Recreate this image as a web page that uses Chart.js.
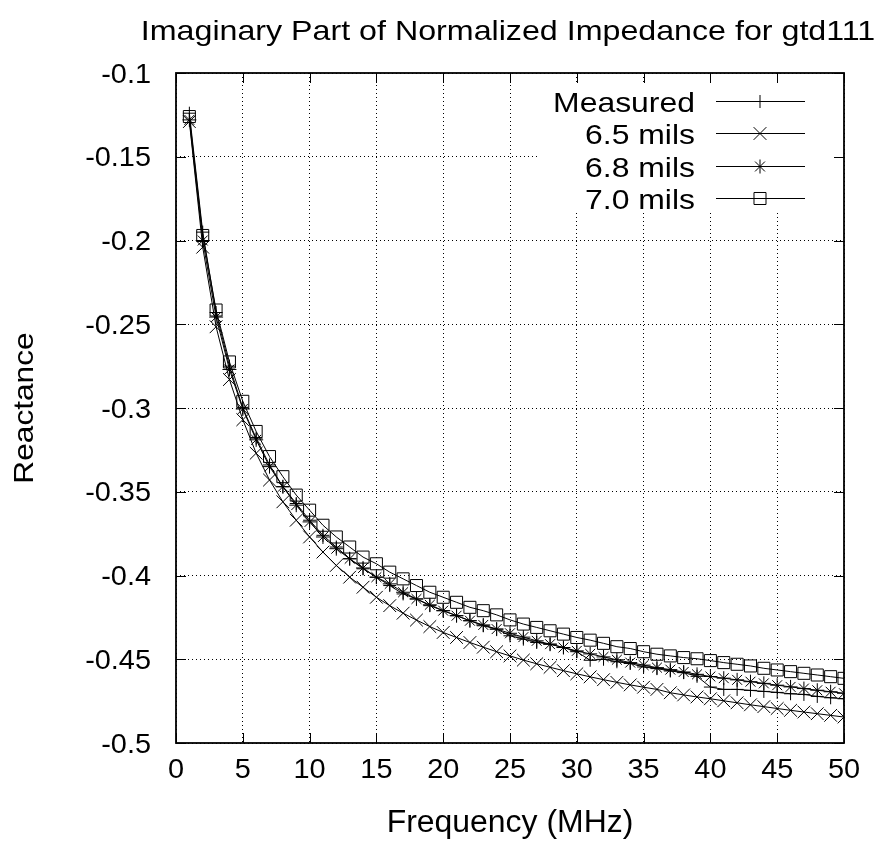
<!DOCTYPE html>
<html>
<head>
<meta charset="utf-8">
<script src="https://cdn.jsdelivr.net/npm/chart.js@4.4.1/dist/chart.umd.min.js"></script>
<style>
  html, body { margin: 0; padding: 0; background: #fff; }
  #wrap { width: 882px; height: 846px; }
</style>
</head>
<body>
<div id="wrap"><canvas id="impedanceChart" width="882" height="846"></canvas></div>
<script>
const freqs = [1, 2, 3, 4, 5, 6, 7, 8, 9, 10, 11, 12, 13, 14, 15, 16, 17, 18, 19, 20,
  21, 22, 23, 24, 25, 26, 27, 28, 29, 30, 31, 32, 33, 34, 35, 36, 37, 38, 39, 40,
  41, 42, 43, 44, 45, 46, 47, 48, 49, 50];

const measured = [-0.124, -0.195, -0.243, -0.275, -0.300, -0.318, -0.334, -0.347, -0.357, -0.367,
  -0.376, -0.383, -0.390, -0.396, -0.401, -0.406, -0.411, -0.414, -0.418, -0.421,
  -0.424, -0.427, -0.430, -0.432, -0.436, -0.438, -0.440, -0.441, -0.443, -0.4455,
  -0.4506, -0.450, -0.4515, -0.4525, -0.4546, -0.4556, -0.457, -0.458, -0.4602, -0.4666,
  -0.468, -0.468, -0.4686, -0.4692, -0.4698, -0.4706, -0.471, -0.4722, -0.473, -0.4736];

const mils65 = [-0.129, -0.204, -0.2515, -0.283, -0.307, -0.327, -0.343, -0.356, -0.367, -0.377,
  -0.386, -0.394, -0.401, -0.407, -0.413, -0.418, -0.4225, -0.4266, -0.4305, -0.434,
  -0.437, -0.440, -0.4428, -0.4455, -0.448, -0.4505, -0.4527, -0.4548, -0.4568, -0.4587,
  -0.4605, -0.4622, -0.4638, -0.4653, -0.4667, -0.468, -0.470, -0.4713, -0.4725, -0.4736,
  -0.4748, -0.476, -0.4772, -0.4783, -0.4794, -0.4805, -0.4815, -0.4825, -0.4835, -0.4845];

const mils68 = [-0.128, -0.200, -0.2457, -0.277, -0.3006, -0.319, -0.335, -0.347, -0.358, -0.368,
  -0.377, -0.384, -0.390, -0.3955, -0.401, -0.405, -0.410, -0.414, -0.4175, -0.421,
  -0.424, -0.427, -0.4295, -0.432, -0.4345, -0.4368, -0.439, -0.441, -0.443, -0.445,
  -0.4468, -0.4486, -0.4503, -0.452, -0.4535, -0.455, -0.4562, -0.4576, -0.459, -0.4603,
  -0.4613, -0.4623, -0.4634, -0.4644, -0.4655, -0.4665, -0.4675, -0.4685, -0.4694, -0.4703];

const mils70 = [-0.126, -0.197, -0.2415, -0.2725, -0.296, -0.314, -0.329, -0.341, -0.352, -0.361,
  -0.370, -0.377, -0.383, -0.389, -0.393, -0.398, -0.402, -0.406, -0.410, -0.413,
  -0.416, -0.419, -0.421, -0.4235, -0.4265, -0.429, -0.431, -0.433, -0.435, -0.437,
  -0.4386, -0.4405, -0.4425, -0.4436, -0.4455, -0.447, -0.448, -0.449, -0.4497, -0.4508,
  -0.452, -0.453, -0.454, -0.4554, -0.4564, -0.4574, -0.4584, -0.4594, -0.4604, -0.4614];

const seriesLabels = ['Measured', '6.5 mils', '6.8 mils', '7.0 mils'];
const xTicks = [0, 5, 10, 15, 20, 25, 30, 35, 40, 45, 50];
const yTicks = [-0.1, -0.15, -0.2, -0.25, -0.3, -0.35, -0.4, -0.45, -0.5];

const FONT = "'Liberation Sans', Arial, Helvetica, sans-serif";

const toPoints = vals => freqs.map((f, i) => ({ x: f, y: vals[i] }));

// marker styles, gnuplot-like: +, x, *, open square
const markers = [
  { style: 'cross', radius: 6.5 },
  { style: 'crossRot', radius: 9 },
  { style: 'star', radius: 7 },
  { style: 'rect', radius: 8.5 }
];

const seriesValues = [measured, mils65, mils68, mils70];

const datasets = seriesValues.map((vals, i) => ({
  label: seriesLabels[i],
  data: toPoints(vals),
  borderColor: '#000',
  borderWidth: 1,
  pointStyle: markers[i].style,
  pointRadius: markers[i].radius,
  pointBorderColor: '#000',
  pointBackgroundColor: 'rgba(0,0,0,0)',
  pointBorderWidth: 1,
  tension: 0,
  fill: false
}));

// the old gnuplot png fonts come out a little wider than Liberation,
// so text is drawn with a horizontal stretch
function wideText(ctx, text, x, y, size, sx, align, vertical) {
  ctx.save();
  ctx.translate(x, y);
  if (vertical) ctx.rotate(-Math.PI / 2);
  ctx.scale(sx, 1);
  ctx.font = size + 'px ' + FONT;
  ctx.textAlign = align;
  ctx.textBaseline = 'alphabetic';
  ctx.fillStyle = '#000';
  ctx.fillText(text, 0, 0);
  ctx.restore();
}

function drawMarker(ctx, style, x, y, r) {
  ctx.beginPath();
  if (style === 'cross' || style === 'star') {
    ctx.moveTo(x, y - r); ctx.lineTo(x, y + r);
    ctx.moveTo(x - r, y); ctx.lineTo(x + r, y);
  }
  if (style === 'crossRot' || style === 'star') {
    const d = Math.SQRT1_2 * r;
    ctx.moveTo(x - d, y - d); ctx.lineTo(x + d, y + d);
    ctx.moveTo(x - d, y + d); ctx.lineTo(x + d, y - d);
  }
  if (style === 'rect') {
    const s = Math.SQRT1_2 * r;
    ctx.rect(x - s, y - s, 2 * s, 2 * s);
  }
  ctx.stroke();
}

const gnuplotFrame = {
  id: 'gnuplotFrame',
  beforeDatasetsDraw(chart) {
    const { ctx, chartArea: a } = chart;
    // key box hides the grid behind it
    ctx.save();
    ctx.fillStyle = '#fff';
    ctx.fillRect(a.right - 305, a.top + 12, 304, 127);
    ctx.restore();
  },
  afterDraw(chart) {
    const { ctx, chartArea: a, scales: { x, y } } = chart;
    ctx.save();

    // inward ticks on all four sides
    ctx.strokeStyle = '#000';
    ctx.lineWidth = 1;
    ctx.beginPath();
    xTicks.forEach(v => {
      const px = Math.round(x.getPixelForValue(v)) + 0.5;
      ctx.moveTo(px, a.bottom); ctx.lineTo(px, a.bottom - 10);
      ctx.moveTo(px, a.top); ctx.lineTo(px, a.top + 10);
    });
    yTicks.forEach(v => {
      const py = Math.round(y.getPixelForValue(v)) + 0.5;
      ctx.moveTo(a.left, py); ctx.lineTo(a.left + 10, py);
      ctx.moveTo(a.right, py); ctx.lineTo(a.right - 10, py);
    });
    ctx.stroke();

    ctx.lineWidth = 1.8;
    ctx.strokeRect(a.left, a.top, a.right - a.left, a.bottom - a.top);

    // tick labels
    xTicks.forEach(v => wideText(ctx, String(v), x.getPixelForValue(v), a.bottom + 35, 27, 1.07, 'center'));
    yTicks.forEach(v => wideText(ctx, String(Number(v.toFixed(2))), a.left - 25, y.getPixelForValue(v) + 9.5, 27, 1.07, 'right'));

    // titles
    wideText(ctx, 'Imaginary Part of Normalized Impedance for gtd111', (a.left + a.right) / 2 - 2, 40, 28, 1.15, 'center');
    wideText(ctx, 'Frequency (MHz)', (a.left + a.right) / 2, 832, 31, 1.03, 'center');
    wideText(ctx, 'Reactance', 33, (a.top + a.bottom) / 2, 28, 1.13, 'center', true);

    // key
    chart.data.datasets.forEach((ds, i) => {
      const rowY = Math.round(a.top + 28 + i * 32.3) + 0.5;
      wideText(ctx, ds.label, a.right - 149, rowY + 10, 28, 1.14, 'right');
      ctx.lineWidth = 1;
      ctx.beginPath();
      ctx.moveTo(a.right - 128, rowY);
      ctx.lineTo(a.right - 39, rowY);
      ctx.stroke();
      drawMarker(ctx, markers[i].style, a.right - 84, rowY, markers[i].radius);
    });

    ctx.restore();
  }
};

new Chart(document.getElementById('impedanceChart'), {
  type: 'line',
  data: { datasets },
  options: {
    responsive: false,
    animation: false,
    layout: { padding: { top: 73, right: 38, left: 0, bottom: 0 } },
    plugins: {
      legend: { display: false },
      title: { display: false },
      tooltip: { enabled: false }
    },
    scales: {
      x: {
        type: 'linear',
        min: 0,
        max: 50,
        afterFit: s => { s.height = 103; },
        afterBuildTicks: s => { s.ticks = xTicks.map(v => ({ value: v })); },
        grid: { color: '#000', lineWidth: 1, drawTicks: false },
        border: { display: false, dash: [1, 3] },
        ticks: { display: false }
      },
      y: {
        type: 'linear',
        min: -0.5,
        max: -0.1,
        afterFit: s => { s.width = 176; },
        afterBuildTicks: s => { s.ticks = yTicks.map(v => ({ value: v })); },
        grid: { color: '#000', lineWidth: 1, drawTicks: false },
        border: { display: false, dash: [1, 3] },
        ticks: { display: false }
      }
    }
  },
  plugins: [gnuplotFrame]
});
</script>
</body>
</html>
